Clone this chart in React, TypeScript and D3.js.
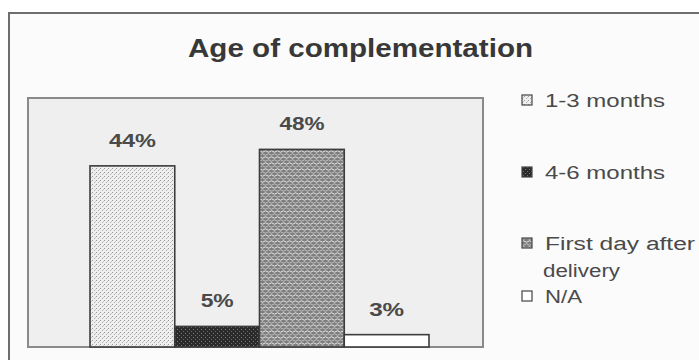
import React from "react";
import * as d3 from "d3";

const categories = ["1-3 months", "4-6 months", "First day after delivery", "N/A"];
const values = [44, 5, 48, 3];
const valueLabels = ["44%", "5%", "48%", "3%"];
const legendLines = [["1-3 months"], ["4-6 months"], ["First day after", "delivery"], ["N/A"]];
const title = "Age of complementation";

const W = 699;
const H = 360;
const plot = { left: 28, top: 98, right: 483, bottom: 347 };
const patternIds = ["pat1", "pat2", "pat3", "pat4"];
const labelWidths = [47, 33, 45, 35];
const legendY = [100, 172, 243, 296];
const legendWidths = [[120], [120], [150, 77], [37]];

export default function App() {
  const x = d3.scaleBand<string>().domain(categories).range([90, 429]).padding(0);
  const y = d3.scaleLinear().domain([0, 60]).range([347, 100]);
  const font = "'Liberation Sans', Arial, sans-serif";

  return (
    <svg width={W} height={H} style={{ position: "absolute", left: 0, top: 0, background: "#ffffff" }}>
      <defs>
        <pattern id="pat1" width={4} height={4} patternUnits="userSpaceOnUse">
          <rect width={4} height={4} fill="#efefef" />
          <rect x={0} y={0} width={1} height={1} fill="#9a9a9a" />
          <rect x={2} y={2} width={1} height={1} fill="#b0b0b0" />
          <rect x={3} y={1} width={1} height={1} fill="#c8c8c8" />
        </pattern>
        <pattern id="pat2" width={4} height={4} patternUnits="userSpaceOnUse">
          <rect width={4} height={4} fill="#2b2b2b" />
          <rect x={1} y={1} width={1} height={1} fill="#7a7a7a" />
          <rect x={3} y={3} width={1} height={1} fill="#6a6a6a" />
        </pattern>
        <pattern id="pat3" width={6} height={6} patternUnits="userSpaceOnUse">
          <rect width={6} height={6} fill="#7e7e7e" />
          <path d="M0,1.5 Q1.5,0 3,1.5 T6,1.5" stroke="#e6e6e6" strokeWidth={1} fill="none" />
          <path d="M0,4.5 Q1.5,6 3,4.5 T6,4.5" stroke="#d0d0d0" strokeWidth={0.8} fill="none" />
        </pattern>
        <pattern id="pat4" width={4} height={4} patternUnits="userSpaceOnUse">
          <rect width={4} height={4} fill="#ffffff" />
        </pattern>
      </defs>

      {/* outer frame */}
      <rect x={9} y={13} width={W} height={H} fill="#fbfbfb" stroke="#6e6e6e" strokeWidth={2} />

      {/* title */}
      <text x={360.5} y={57} textAnchor="middle" fontFamily={font} fontSize={25} fontWeight="bold"
        fill="#383838" textLength={345} lengthAdjust="spacingAndGlyphs">{title}</text>

      {/* plot area */}
      <rect x={plot.left} y={plot.top} width={plot.right - plot.left} height={plot.bottom - plot.top}
        fill="#efefef" stroke="#8a8a8a" strokeWidth={2} />

      {/* bars */}
      {categories.map((c, i) => (
        <rect key={c} x={x(c)!} y={y(values[i])} width={x.bandwidth()} height={y(0) - y(values[i])}
          fill={`url(#${patternIds[i]})`} stroke="#3c3c3c" strokeWidth={1.6} />
      ))}

      {/* value labels */}
      {categories.map((c, i) => (
        <text key={c + "l"} x={x(c)! + x.bandwidth() / 2} y={y(values[i]) - 19} textAnchor="middle"
          fontFamily={font} fontSize={18} fontWeight="bold" fill="#4a4a4a"
          textLength={labelWidths[i]} lengthAdjust="spacingAndGlyphs">{valueLabels[i]}</text>
      ))}

      {/* legend */}
      {categories.map((c, i) => (
        <g key={c + "g"}>
          <rect x={522} y={legendY[i] - 5} width={10} height={10} fill={`url(#${patternIds[i]})`}
            stroke="#444" strokeWidth={1.2} />
          {legendLines[i].map((line, j) => (
            <text key={line} x={j === 0 ? 545 : 543} y={legendY[i] + 7 + j * 27} fontFamily={font} fontSize={18}
              fill="#4a4a4a" textLength={legendWidths[i][j]} lengthAdjust="spacingAndGlyphs">{line}</text>
          ))}
        </g>
      ))}
    </svg>
  );
}
